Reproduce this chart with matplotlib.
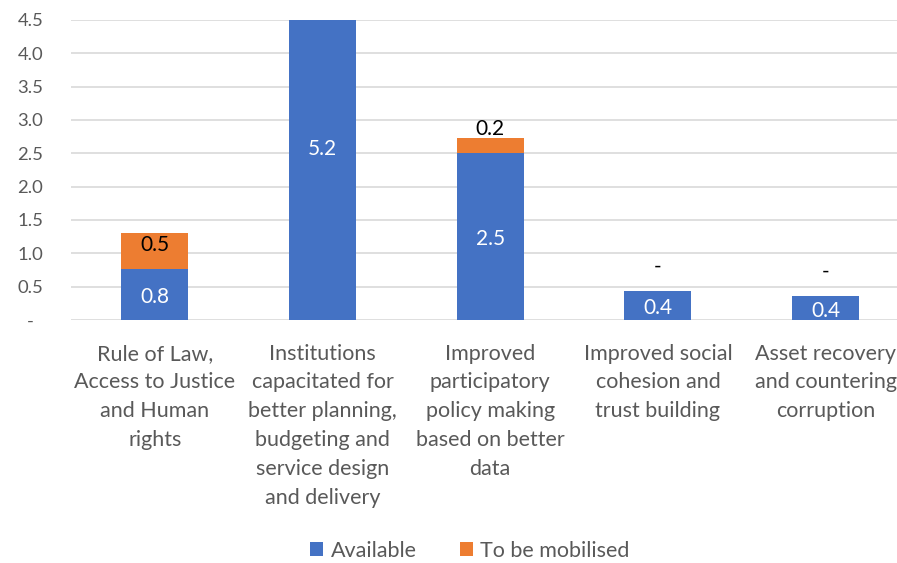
import matplotlib
matplotlib.use("Agg")
import matplotlib.pyplot as plt
from matplotlib.ticker import FuncFormatter
import numpy as np

plt.rcParams['font.family'] = ['Lato', 'DejaVu Sans']

categories = [
    "Rule of Law,\nAccess to Justice\nand Human\nrights",
    "Institutions\ncapacitated for\nbetter planning,\nbudgeting and\nservice design\nand delivery",
    "Improved\nparticipatory\npolicy making\nbased on better\ndata",
    "Improved social\ncohesion and\ntrust building",
    "Asset recovery\nand countering\ncorruption",
]
available = [0.77, 5.2, 2.50, 0.44, 0.36]
to_be_mobilised = [0.54, 0.0, 0.23, 0.0, 0.0]
series_names = ["Available", "To be mobilised"]

BLUE = "#4472C4"
ORANGE = "#ED7D31"
GRAY = "#595959"
GRID = "#D9D9D9"

fig = plt.figure(figsize=(8.97, 5.63), dpi=100)
ax = fig.add_axes([0.079, 0.4316, 0.935, 0.533])

x = np.arange(len(categories))
w = 0.4
ax.bar(x, available, width=w, color=BLUE, label=series_names[0], zorder=3)
ax.bar(x, to_be_mobilised, width=w, bottom=available, color=ORANGE,
       label=series_names[1], zorder=3)

ax.set_xlim(-0.5, len(categories) - 0.5)
ax.set_ylim(0, 4.5)
ax.set_yticks(np.arange(0, 4.51, 0.5))
ax.yaxis.set_major_formatter(FuncFormatter(lambda v, p: "-  " if abs(v) < 1e-9 else f"{v:.1f}"))
ax.grid(axis='y', color=GRID, linewidth=1.2, zorder=0)
ax.set_axisbelow(True)
for s in ax.spines.values():
    s.set_visible(False)
ax.tick_params(axis='y', length=0, pad=20, labelsize=13.3, labelcolor=GRAY)
ax.tick_params(axis='x', length=0, pad=17, labelsize=15.5, labelcolor=GRAY)
ax.set_xticks(x)
ax.set_xticklabels(categories, linespacing=1.55, va='top', ha='center')

def fmt(v):
    return "-" if abs(v) < 1e-9 else f"{v:.1f}"

for i in range(len(categories)):
    a = available[i]
    m = to_be_mobilised[i]
    ax.annotate(fmt(a), (x[i], a / 2), xytext=(0, -2), textcoords='offset points',
                ha='center', va='center', color='white', fontsize=15, zorder=5)
    top = a + m
    if m >= 0.3:
        ax.annotate(fmt(m), (x[i], a + m / 2), xytext=(0, 4), textcoords='offset points',
                    ha='center', va='center', color='black', fontsize=15, zorder=5)
    elif m > 0:
        ax.annotate(fmt(m), (x[i], top), xytext=(0, 2), textcoords='offset points',
                    ha='center', va='baseline', color='black', fontsize=15, zorder=5)
    else:
        ax.annotate(fmt(m), (x[i], top), xytext=(0, 13), textcoords='offset points',
                    ha='center', va='baseline', color='black', fontsize=15, zorder=5)

fig.legend(loc='center', bbox_to_anchor=(0.524, 0.022), ncol=2, frameon=False,
           fontsize=15.5, labelcolor=GRAY, handlelength=0.6, handleheight=0.6,
           handletextpad=0.35, columnspacing=2.0)

fig.savefig("out.png", dpi=100)
